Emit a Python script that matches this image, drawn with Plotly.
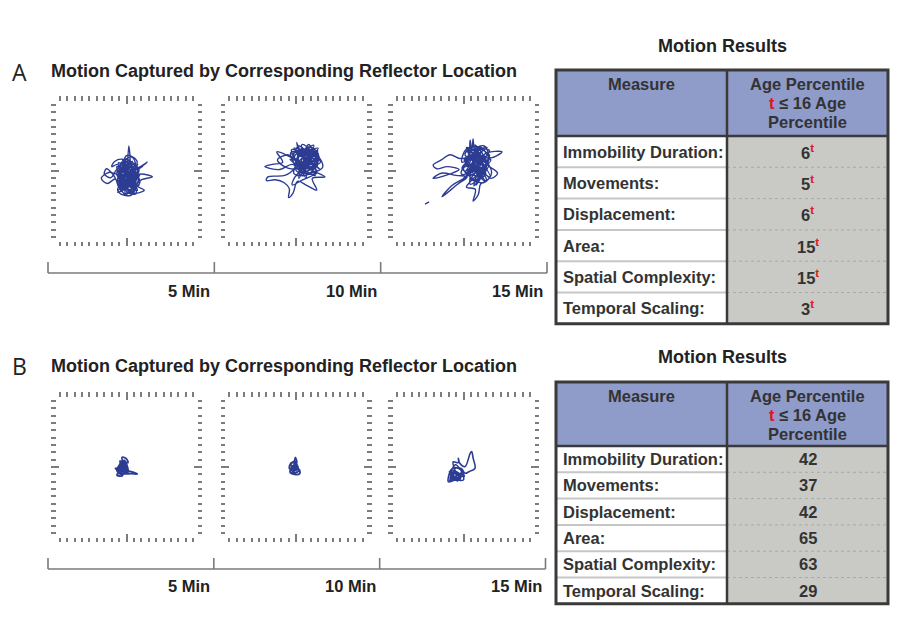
import plotly.graph_objects as go

W, H = 924, 618
OFF = 8  # page body margin of the browser
def PX(x):
    return (x - OFF) / W
def PY(y):
    return 1 - (y - OFF) / H

# ---------------- data ----------------
letters = ["A", "B"]
panel_title = "Motion Captured by Corresponding Reflector Location"
table_title = "Motion Results"
time_ticks = [0, 5, 10, 15]
time_labels = ["", "5 Min", "10 Min", "15 Min"]
measures = ["Immobility Duration:", "Movements:", "Displacement:", "Area:",
            "Spatial Complexity:", "Temporal Scaling:"]
percentiles_A = [6, 5, 6, 15, 15, 3]
flags_A = [True, True, True, True, True, True]
percentiles_B = [42, 37, 42, 65, 63, 29]
flags_B = [False, False, False, False, False, False]

# reflector tracks (arbitrary position units, centre = 0)
a1_x = [0.1, 0.3, 0.4, -0.5, -1.6, -2.0, -1.2, -0.6, 0.9, 1.5, 2.8, 1.2, -0.9, -2.4, -3.4, -2.6, -1.5, -1.0,
        0.2, 1.1, 0.6, -0.8, -1.2, 0.4, 1.9, 3.5, 2.0, 1.4, 2.4, 1.0, -0.3, -1.3, 0.5, 1.6, -0.4, -0.9, 0.7,
        1.2, 0.0, -1.1, 0.8, 1.7, -0.2, -1.4, -2.1, -3.0, -2.7, -1.8, -0.5, 0.9, 1.3, 0.1, -0.6, 1.0, 2.2,
        0.3, -0.7, 0.5, 1.8, 0.2, -1.0, 0.6, 1.4, 0.0, -0.3, 1.2, -0.1, -1.0, 0.3, 1.6, -0.8, 0.9, -0.5, 1.1,
        0.4, -1.0, 1.5, -0.4, 1.3, -1.2, 0.9, -0.6, 1.7, 0.0, -0.9, 1.0, -1.3, 0.6, 1.4, -0.7, 0.2, -1.1,
        1.6, -0.2, 0.8, -1.2, 1.1, -0.5, 0.5, 1.8, -0.8, 0.3, 1.2, -1.0, 0.7, -0.3, 1.5, -0.6, 0.9, 0.0,
        -0.4, 1.0, -1.1, 0.6, -0.2, 1.3, -0.9, 0.4, 1.1, -0.6]
a1_y = [0.2, 3.4, 1.0, 1.6, 1.3, 0.6, 0.9, 0.2, 1.1, 0.5, 1.2, 0.1, -0.5, -0.2, -1.0, -1.7, -1.1, -2.2,
        -1.6, -2.4, -3.3, -3.1, -2.5, -0.9, -0.4, -0.8, -1.2, -2.0, -2.6, -3.0, -2.0, -0.2, 0.6, -0.9, -1.3,
        0.8, 1.9, 0.9, -0.4, -1.5, -1.1, 0.2, 1.2, 0.1, -0.9, -0.4, 0.3, -0.5, -2.6, -1.8, -3.1, -2.9, -1.0,
        0.0, 0.6, -0.2, -1.9, -2.5, -1.6, 0.9, 0.4, -0.6, 1.4, 2.1, 0.0, -1.4, -3.2, -1.7, -1.2, -0.2, -2.8,
        0.4, 1.5, -2.1,
        1.5, -0.8, -2.6, 0.5, -0.6, -2.9, 0.4, -1.6, -1.9, 1.6, -2.2, -0.8, 0.6, -3.0, 0.6, -0.3, -2.2, 1.1,
        -1.2, -3.0, 1.3, -1.2, -2.7, 1.0, -1.5, -0.6, -2.7, 0.3, -2.2, -0.1, -0.4, -1.8, 0.9, -2.4, -1.4, 0.8,
        -2.3, 0.2, -1.9, -1.0, 0.7, -2.5, -0.7, -1.3, 0.1, -2.0]

a2_x = [1.2, 0.1, 0.8, 2.4, 3.0, 1.5, -0.6, -2.6, -1.8, -3.2, -4.2, -2.2, -0.5, 1.0, 3.6, 2.6, 0.6, -0.2,
        -1.5, -3.8, -4.0, -2.8, -1.6, -0.9, -1.0, -0.4, 0.2, 1.5, 2.8, 2.2, 3.9, 2.4, 0.3, 1.9, 2.9, 0.6,
        -0.7, 1.4, 2.2, 0.0, 1.1, 3.1, 1.6, -0.3, 1.0, 2.7, 0.9, -0.5, -0.2, 1.8, 0.4, -0.4, 2.0, 2.9, 1.3,
        -1.1, -2.5, -1.0, 0.5, 2.3, 1.7, 0.7, 3.3, 1.5, 0.2, 2.6, 1.0,
        2.5, 0.2, 3.0, -0.5, 2.0, 0.8, 1.4, -0.6, 2.8, 0.1, 1.9, -0.3, 3.2, 1.1, 0.4, 2.4, 0.9, 2.6, -0.8,
        1.7, 0.3, 3.0, 1.2, -0.2, 2.2, 1.5, 0.0, 2.8, 0.7, 1.8, -0.5, 2.5, 1.0, 3.1]
a2_y = [1.2, 3.9, 2.0, 3.0, 1.5, 0.3, 1.8, 2.6, 1.2, 0.9, 0.6, 0.2, 0.9, -0.3, 0.5, 2.4, 2.8, 0.4, -0.6,
        -0.8, -1.3, -1.2, -1.6, -2.4, -3.6, -3.0, -1.4, -2.0, -2.6, -1.0, -0.8, 0.0, 1.5, 3.3, 0.8, 0.0,
        2.5, 2.4, 1.0, 1.0, 3.0, 2.0, -0.5, -0.3, 1.8, -0.2, -1.2, -1.9, -0.9, 1.6, 3.4, 1.3, 0.4, 2.9, 0.6,
        0.4, 1.5, 2.2, 1.0, 2.0, 3.6, 0.5, 1.2, 2.7, 2.2, 1.9, 0.2,
        1.6, 2.1, 3.1, 0.0, 2.6, 3.6, -0.9, 2.9, 1.1, -0.6, 2.2, 3.1, 0.3, 1.4, -1.0, 3.5, 2.3, -0.6, 1.6,
        1.0, 2.6, 2.4, -0.2, 2.0, 3.2, 1.9, 0.1, -0.3, 3.1, 0.3, 2.3, 2.5, 0.8, 1.6]

a3_x = [1.5, 1.3, 1.1, 0.9, 0.6, -0.5, -1.8, -3.0, -4.1, -3.6, -2.2, -0.6, -1.8, -4.1, -3.0, -1.0, 0.5,
        -0.8, -2.9, -1.6, 0.2, 1.6, 3.0, 5.2, 3.6, 2.4, 0.4, -0.2, 1.8, 3.5, 4.6, 3.7, 2.5, 0.8, 0.4, 1.6,
        1.3, 2.0, 2.3, 3.1, 2.0, 0.3, 1.2, 2.8, 3.4, 1.0, -0.3, 0.7, 2.2, 3.8, 2.7, 1.2, 0.0, 2.0, 1.6, 0.2,
        2.6, 1.5, 0.6, 3.0, 2.2, 0.8, 1.9, 3.3, 1.0, 2.4, 0.5, 3.1, 1.7,
        2.8, 0.6, 3.5, 0.0, 2.4, 1.4, 3.6, 0.5, 2.9, 1.1, 3.2, -0.2, 2.1, 1.8, 0.9, 3.4, 0.4, 2.6, 1.3,
        3.7, 0.7, 2.3, 1.6, 0.1, 2.9, 1.0, 3.0, 0.8, 2.0, 1.4, 3.5, 0.3, 2.5,
        1.2, 3.1, 0.6, 2.2, 1.7, 0.2, 2.7, 1.0,
        None, -5.2, -4.65]
a3_y = [1.0, 4.4, 2.5, 4.2, 2.0, 1.7, 2.2, 1.5, 0.8, 0.3, 0.6, 0.2, -0.4, -1.0, -0.3, -0.6, -0.8, -1.8,
        -3.5, -2.0, -0.9, 0.5, 2.4, 2.6, 1.8, 3.2, 3.0, 1.2, 1.9, 0.6, -0.3, -1.0, -0.2, -1.6, -2.2, -2.5,
        -4.1, -3.2, -1.8, -1.2, 0.2, 0.8, 2.8, 3.4, 1.4, -0.2, -0.4, 1.5, 2.0, -0.2, -1.6, -1.0, 0.4, 1.2,
        3.5, 2.2, 0.8, -1.4, 0.0, 0.2, 2.8, 0.9, -0.8, 2.2, 3.3, -0.6, 1.6, 1.0, -1.9,
        0.4, 2.6, 2.8, -1.0, 1.6, 3.0, -0.8, 1.2, -1.4, 2.2, 3.2, 0.4, -0.6, 2.6, -1.8, 0.9, 3.2, -1.0, 1.8,
        1.5, -0.6, 3.4, 0.1, 1.6, 2.0, -1.2, -0.4, 2.9, 0.9, -2.0, 2.2, 0.0, 2.6,
        1.1, 1.9, -0.3, 0.6, 2.4, 1.3, -0.1, 0.5,
        None, -4.5, -4.2]

b1_x = [-0.3, -0.6, -0.1, 0.2, -0.9, -0.5, -1.5, -1.0, -1.3, -0.6, -0.2, 0.5, 1.46, 0.6, -0.4, -1.1,
        -0.3, 0.1, -0.8, -0.2, -0.9, 0.0, -0.5, -1.2, -0.7, -0.2, -1.1, -0.4, -0.9, 0.1, -0.6, -1.3,
        -0.3, 0.2, -0.8, -0.5]
b1_y = [0.2, 1.3, 1.2, 0.6, 0.8, 0.0, -0.2, -0.6, -1.1, -1.2, -0.5, -0.6, -0.95, -0.9, -0.9, -0.4,
        0.6, 0.0, 0.3, -0.2, -0.9, -0.8, 0.9, -0.7, 0.1, 0.4, -0.9, -0.3, 0.5, -0.4, -1.0, -0.5,
        0.9, -0.7, -0.1, 0.3]

b2_x = [-0.3, -0.1, 0.1, -0.6, -0.9, -0.3, 0.4, 0.5, -0.2, -0.8, -0.4, 0.2, -0.5, 0.3, -0.2, -0.7, 0.0,
        -0.4, 0.3, -0.6, 0.1, -0.3]
b2_y = [0.0, 1.3, 0.5, 0.6, -0.2, -0.4, -0.3, -0.9, -1.0, -0.7, 0.2, 0.2, -0.8, -0.6, 0.8, 0.3, -0.5,
        -0.1, 0.0, -0.5, 0.6, -0.7]

b3_x = [-1.0, -1.4, -0.7, -0.7, -0.5, 0.2, 0.9, 1.1, 1.3, 1.55, 0.8, 0.2, -0.3, -1.6, -2.0, -2.05, -1.2,
        0.0, -0.2, -1.5, -1.8, -0.6, -0.3, -1.2, -0.8, -1.9, 0.1, -1.1, -1.7, -0.4, -1.4, -0.6, -1.9,
        -0.2, -1.0, -1.6]
b3_y = [-0.8, 0.7, 0.6, 1.2, 0.5, 0.05, 1.85, 2.1, 1.2, -0.2, -0.6, -0.85, -0.2, -0.3, -1.2, -2.0, -1.8,
        -1.75, -1.0, -1.0, -1.6, -1.4, -0.5, -0.1, -1.9, -0.6, -1.3, 0.3, -1.3, -1.6, -0.5, -0.9, -1.8,
        -1.3, -1.5, -0.7]

tracks = [(a1_x, a1_y), (a2_x, a2_y), (a3_x, a3_y), (b1_x, b1_y), (b2_x, b2_y), (b3_x, b3_y)]

# ---------------- style / layout constants ----------------
FONT = "Liberation Sans, Arial, sans-serif"
TXT = "#333333"
TRACK = "#2d3c93"
TICKC = "#7c7c7c"
HEAD = "#8f9bc9"
GRAY = "#c9c9c5"
DARK = "#3a3a3a"
LINEC = "#7a7a7a"

panel_x = [(51, 202), (220.5, 371.5), (388, 539)]
row_y = [(96, 246), (392, 542)]
track_w = [1.4, 1.4, 1.4, 1.8, 1.8, 1.6]
R = 10.2
minor_vals = [v for v in range(-9, 10) if v != 0]

fig = go.Figure()
layout = dict(width=W, height=H, margin=dict(l=0, r=0, t=0, b=0),
              paper_bgcolor="white", plot_bgcolor="rgba(0,0,0,0)",
              showlegend=False, font=dict(family=FONT, color=TXT))

axis_common = dict(range=[-R, R], showgrid=False, zeroline=False, showline=False,
                   showticklabels=False, ticks="inside", tickmode="array", tickvals=[0],
                   ticklen=8, tickwidth=1.8, tickcolor=TICKC, mirror="ticks", fixedrange=True,
                   minor=dict(tickmode="array", tickvals=minor_vals, ticks="inside",
                              ticklen=4.5, tickwidth=1.8, tickcolor=TICKC, showgrid=False))

k = 0
for r, (yt, yb) in enumerate(row_y):
    for c, (xl, xr) in enumerate(panel_x):
        k += 1
        xs = "" if k == 1 else str(k)
        layout["xaxis" + xs] = dict(axis_common, domain=[PX(xl), PX(xr)], anchor="y" + xs)
        layout["yaxis" + xs] = dict(axis_common, domain=[PY(yb), PY(yt)], anchor="x" + xs)
        tx, ty = tracks[k - 1]
        fig.add_trace(go.Scatter(x=tx, y=ty, mode="lines", xaxis="x" + xs, yaxis="y" + xs,
                                 line=dict(color=TRACK, width=track_w[k - 1], shape="spline",
                                           smoothing=1.0),
                                 hoverinfo="skip", connectgaps=False))

# timelines: baseline plus a vertical tick at each time mark, drawn on a 0-15 min axis
timeline = [dict(x0=48, x1=547, y_line=273, label_y=291),
            dict(x0=48, x1=545.5, y_line=569, label_y=586)]
for i, tl in enumerate(timeline):
    n = 7 + i
    span = tl["x1"] - tl["x0"]
    pad = 15 * 2.0 / span  # 2 px in minutes
    layout["xaxis%d" % n] = dict(domain=[PX(tl["x0"] - 2), PX(tl["x1"] + 2)],
                                 range=[-pad, 15 + pad], anchor="y%d" % n,
                                 visible=False, fixedrange=True)
    layout["yaxis%d" % n] = dict(domain=[PY(tl["y_line"] + 1), PY(tl["y_line"] - 11)],
                                 range=[-1 / 11, 1], anchor="x%d" % n, visible=False,
                                 fixedrange=True)
    lx = [time_ticks[0], time_ticks[-1]]
    ly = [0, 0]
    for t in time_ticks:
        lx += [None, t, t]
        ly += [None, 0, 1]
    fig.add_trace(go.Scatter(x=lx, y=ly, mode="lines", xaxis="x%d" % n, yaxis="y%d" % n,
                             line=dict(color=LINEC, width=1.6), hoverinfo="skip",
                             connectgaps=False))

annotations = []
shapes = []

def add_text(x, y, text, size, xanchor="center", weight="bold", family=FONT, color=TXT,
             xref="paper", xshift=0):
    annotations.append(dict(x=x if xref != "paper" else PX(x), y=PY(y), xref=xref, yref="paper",
                            text=text, showarrow=False, xanchor=xanchor, yanchor="middle",
                            xshift=xshift,
                            font=dict(family=family, size=size, color=color, weight=weight)))

# letters and panel titles
for i, (ly, ty) in enumerate([(72, 71), (366, 366)]):
    add_text(10, ly, letters[i], 23, xanchor="left", weight="normal",
             family="Open Sans, Noto Sans, sans-serif", color="#222222")
    add_text(49, ty, panel_title, 18, xanchor="left", color="#222222")

# timeline labels
for i, tl in enumerate(timeline):
    n = 7 + i
    for t, lab in zip(time_ticks, time_labels):
        if lab:
            add_text(t, tl["label_y"], lab, 16.5, xanchor="right", xref="x%d" % n, xshift=-2,
                     color="#222222")

# tables
RED = "#e3141b"
tables = [dict(top=70, head_bottom=136, row_h=31.3, title_y=46, vals=percentiles_A, flags=flags_A),
          dict(top=382, head_bottom=446, row_h=26.3, title_y=357, vals=percentiles_B, flags=flags_B)]
L, M, Rr = 556, 727, 888
for tb in tables:
    top, hb, rh = tb["top"], tb["head_bottom"], tb["row_h"]
    bottom = hb + rh * len(measures)
    shapes.append(dict(type="rect", xref="paper", yref="paper", x0=PX(L), x1=PX(Rr),
                       y0=PY(hb), y1=PY(top), fillcolor=HEAD, line=dict(width=0), layer="below"))
    shapes.append(dict(type="rect", xref="paper", yref="paper", x0=PX(M), x1=PX(Rr),
                       y0=PY(bottom), y1=PY(hb), fillcolor=GRAY, line=dict(width=0), layer="below"))
    for j in range(1, len(measures)):
        yy = hb + j * rh
        shapes.append(dict(type="line", xref="paper", yref="paper", x0=PX(L), x1=PX(M),
                           y0=PY(yy), y1=PY(yy), line=dict(color="#c6c6c6", width=2)))
        shapes.append(dict(type="line", xref="paper", yref="paper", x0=PX(M), x1=PX(Rr),
                           y0=PY(yy), y1=PY(yy), line=dict(color="#a9a9a9", width=1, dash="dot")))
    shapes.append(dict(type="line", xref="paper", yref="paper", x0=PX(L), x1=PX(Rr),
                       y0=PY(hb), y1=PY(hb), line=dict(color=DARK, width=2.5)))
    shapes.append(dict(type="line", xref="paper", yref="paper", x0=PX(M), x1=PX(M),
                       y0=PY(bottom), y1=PY(top), line=dict(color=DARK, width=2.5)))
    shapes.append(dict(type="rect", xref="paper", yref="paper", x0=PX(L), x1=PX(Rr),
                       y0=PY(bottom), y1=PY(top), line=dict(color=DARK, width=3)))

    add_text((L + Rr) / 2, tb["title_y"], table_title, 18, color="#222222")
    add_text((L + M) / 2, top + 14, "Measure", 16.5)
    add_text((M + Rr) / 2, top + 14, "Age Percentile", 16.5)
    add_text((M + Rr) / 2, top + 33,
             "<span style='color:%s'>t</span> \u2264 16 Age" % RED, 16.5)
    add_text((M + Rr) / 2, top + 52, "Percentile", 16.5)
    for j, (m, v, f) in enumerate(zip(measures, tb["vals"], tb["flags"])):
        cy = hb + (j + 0.5) * rh
        add_text(L + 5, cy, m, 16.5, xanchor="left")
        val = str(v) + ("<sup><span style='color:%s'>t</span></sup>" % RED if f else "")
        add_text((M + Rr) / 2, cy, val, 16.5)

layout["annotations"] = annotations
layout["shapes"] = shapes
fig.update_layout(**layout)
fig.write_html("out.html")
